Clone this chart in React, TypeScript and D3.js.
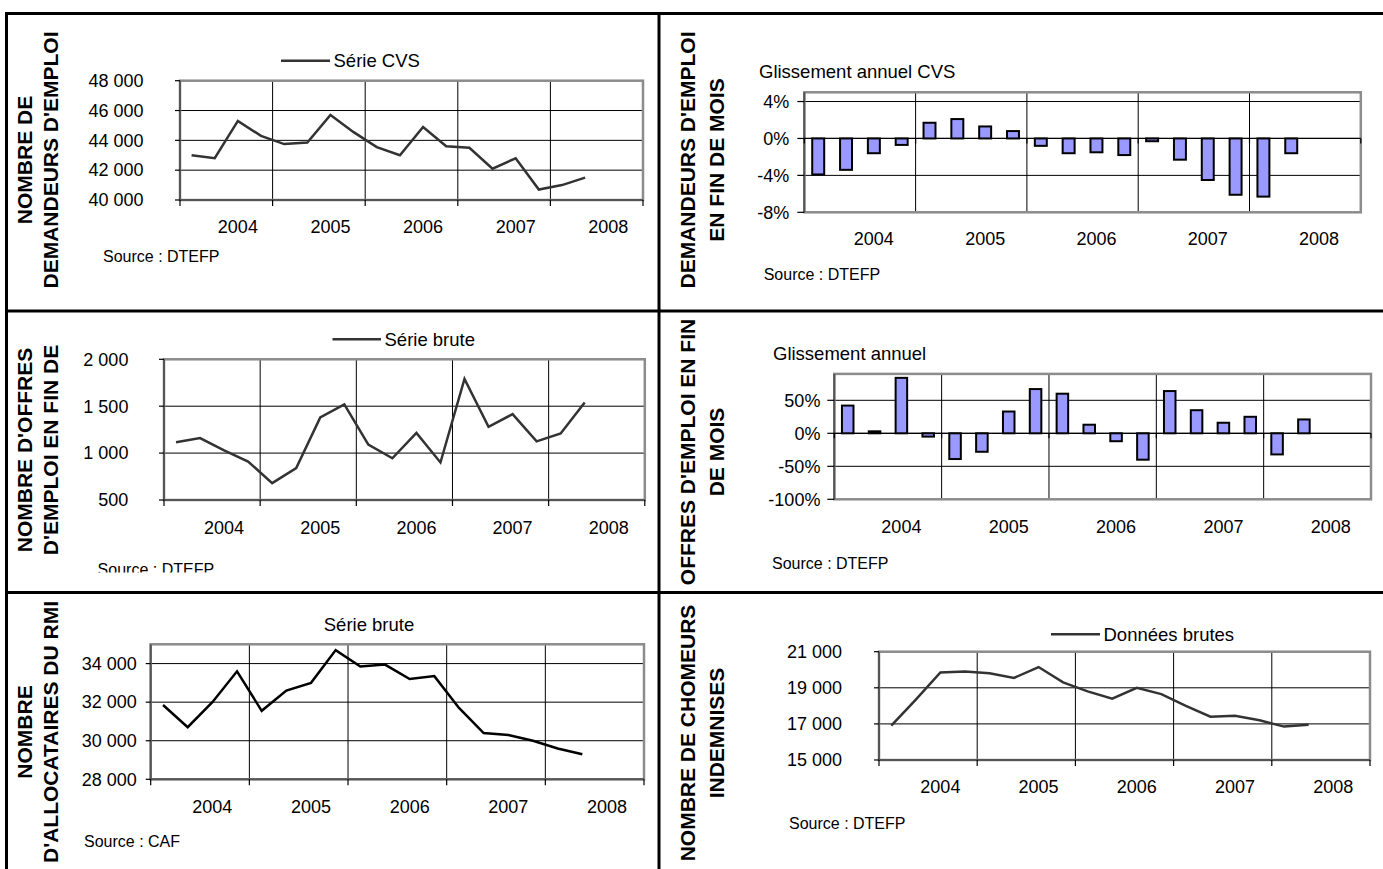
import React from 'react';
import * as d3 from 'd3';

// ---------- DATA ----------
const quarters = [
  '2004T1', '2004T2', '2004T3', '2004T4',
  '2005T1', '2005T2', '2005T3', '2005T4',
  '2006T1', '2006T2', '2006T3', '2006T4',
  '2007T1', '2007T2', '2007T3', '2007T4',
  '2008T1', '2008T2', '2008T3', '2008T4',
];
const yearLabels = ['2004', '2005', '2006', '2007', '2008'];

const demandeursCVS = [43000, 42800, 45300, 44300, 43750, 43850, 45700, 44550, 43550, 43000, 44900, 43600, 43500, 42100, 42800, 40700, 41000, 41500];
const glissementDemandeurs = [-3.9, -3.4, -1.6, -0.7, 1.7, 2.1, 1.3, 0.8, -0.8, -1.6, -1.5, -1.8, -0.3, -2.3, -4.5, -6.1, -6.3, -1.6];
const offresBrutes = [1115, 1160, 1030, 910, 680, 840, 1380, 1520, 1090, 945, 1215, 900, 1790, 1280, 1415, 1125, 1210, 1540];
const glissementOffres = [42, 3, 84, -5, -39, -28, 33, 67, 60, 13, -12, -40, 64, 35, 16, 25, -32, 21];
const allocatairesRMI = [31850, 30700, 32000, 33600, 31550, 32600, 33000, 34700, 33850, 33950, 33200, 33350, 31700, 30400, 30300, 30000, 29600, 29300];
const chomeursIndemnises = [16900, 18350, 19850, 19900, 19800, 19550, 20150, 19300, 18800, 18400, 19000, 18650, 18000, 17400, 17450, 17200, 16850, 16950];

const ticksDemandeurs = [40000, 42000, 44000, 46000, 48000];
const ticksGlissDem = [-8, -4, 0, 4];
const ticksOffres = [500, 1000, 1500, 2000];
const ticksGlissOffres = [-100, -50, 0, 50];
const ticksRMI = [28000, 30000, 32000, 34000];
const ticksChomeurs = [15000, 17000, 19000, 21000];

// ---------- FORMATS ----------
const frLocale = d3.formatLocale({ decimal: ',', thousands: ' ', grouping: [3], currency: ['', ' €'] });
const fmtNum = frLocale.format(',d');
const fmtPct = (v: number) => `${v}%`;

const FONT = 'Liberation Sans, Arial, Helvetica, sans-serif';

type Cfg = {
  id: string;
  kind: 'line' | 'bar';
  values: number[];
  domain: [number, number];
  ticks: number[];
  fmt: (v: number) => string;
  x0: number; x1: number; yB: number; yT: number;
  labelRight: number;
  yearY: number;
  source: { x: number; y: number; text: string; clipY?: number };
  legend?: { x1: number; x2: number; y: number; text: string };
  heading?: { x: number; y: number; text: string; anchor: string };
  titles: { x: number; text: string }[];
  titleCy: number;
  lineColor?: string;
};

const panels: Cfg[] = [
  {
    id: 'p1', kind: 'line', values: demandeursCVS, domain: [40000, 48000], ticks: ticksDemandeurs, fmt: fmtNum,
    x0: 180, x1: 643, yB: 200, yT: 80.7, labelRight: 143.5, yearY: 226.7,
    source: { x: 103, y: 256.7, text: 'Source : DTEFP' },
    legend: { x1: 281, x2: 330, y: 60.7, text: 'Série CVS' },
    titles: [{ x: 24.5, text: 'NOMBRE DE' }, { x: 50.5, text: "DEMANDEURS D'EMPLOI" }], titleCy: 160, lineColor: '#333',
  },
  {
    id: 'p2', kind: 'bar', values: glissementDemandeurs, domain: [-8, 5], ticks: ticksGlissDem, fmt: fmtPct,
    x0: 804.3, x1: 1360.8, yB: 212.3, yT: 92.3, labelRight: 789.3, yearY: 238.3,
    source: { x: 763.7, y: 274.3, text: 'Source : DTEFP' },
    heading: { x: 759, y: 71.7, text: 'Glissement annuel CVS', anchor: 'start' },
    titles: [{ x: 687.5, text: "DEMANDEURS D'EMPLOI" }, { x: 716.5, text: 'EN FIN DE MOIS' }], titleCy: 160,
  },
  {
    id: 'p3', kind: 'line', values: offresBrutes, domain: [500, 2000], ticks: ticksOffres, fmt: fmtNum,
    x0: 164, x1: 644.8, yB: 500, yT: 359.3, labelRight: 128.4, yearY: 528,
    source: { x: 97.6, y: 569, text: 'Source : DTEFP', clipY: 572.5 },
    legend: { x1: 332.5, x2: 381, y: 339.3, text: 'Série brute' },
    titles: [{ x: 24.5, text: "NOMBRE D'OFFRES" }, { x: 50.5, text: "D'EMPLOI EN FIN DE" }], titleCy: 450, lineColor: '#333',
  },
  {
    id: 'p4', kind: 'bar', values: glissementOffres, domain: [-100, 90], ticks: ticksGlissOffres, fmt: fmtPct,
    x0: 834.3, x1: 1371, yB: 499.3, yT: 373.9, labelRight: 820.4, yearY: 526.7,
    source: { x: 772, y: 563.3, text: 'Source : DTEFP' },
    heading: { x: 773, y: 353.3, text: 'Glissement annuel', anchor: 'start' },
    titles: [{ x: 687.5, text: "OFFRES D'EMPLOI EN FIN" }, { x: 716.5, text: 'DE MOIS' }], titleCy: 452,
  },
  {
    id: 'p5', kind: 'line', values: allocatairesRMI, domain: [28000, 35000], ticks: ticksRMI, fmt: fmtNum,
    x0: 150.7, x1: 644, yB: 779.3, yT: 644.3, labelRight: 136.8, yearY: 806.7,
    source: { x: 84, y: 841.7, text: 'Source : CAF' },
    heading: { x: 369, y: 625, text: 'Série brute', anchor: 'middle' },
    titles: [{ x: 24.5, text: 'NOMBRE' }, { x: 50.5, text: "D'ALLOCATAIRES DU RMI" }], titleCy: 732, lineColor: '#000',
  },
  {
    id: 'p6', kind: 'line', values: chomeursIndemnises, domain: [15000, 21000], ticks: ticksChomeurs, fmt: fmtNum,
    x0: 879, x1: 1370, yB: 760, yT: 651.7, labelRight: 842, yearY: 786.7,
    source: { x: 789, y: 823.3, text: 'Source : DTEFP' },
    legend: { x1: 1051, x2: 1100, y: 634.3, text: 'Données brutes' },
    titles: [{ x: 687.5, text: 'NOMBRE DE CHOMEURS' }, { x: 716.5, text: 'INDEMNISES' }], titleCy: 733, lineColor: '#333',
  },
];

function Panel({ c }: { c: Cfg }) {
  const xp = d3.scalePoint<string>().domain(quarters).range([c.x0, c.x1]).padding(0.5);
  const xb = d3.scaleBand<string>().domain(quarters).range([c.x0, c.x1]).paddingInner(0.57).paddingOuter(0.285);
  const y = d3.scaleLinear().domain(c.domain).range([c.yB, c.yT]);
  const step = xp.step();
  const boundaries = d3.range(0, 6).map((k) => c.x0 + k * 4 * step);
  const top = y(c.domain[1]);
  const lineGen = d3.line<number>().x((_, i) => xp(quarters[i]) as number).y((d) => y(d));

  return (
    <g>
      {/* vertical titles */}
      {c.titles.map((t, i) => (
        <text key={i} transform={`translate(${t.x},${c.titleCy}) rotate(-90)`} textAnchor="middle" dy="0.35em"
          fontFamily={FONT} fontWeight="bold" fontSize={21} fill="#000">{t.text}</text>
      ))}
      {/* horizontal gridlines */}
      {c.ticks.filter((t) => t !== c.domain[0]).map((t) => (
        <line key={'g' + t} x1={c.x0} x2={c.x1} y1={y(t)} y2={y(t)} stroke="#000" strokeWidth={1} />
      ))}
      {/* vertical year lines */}
      {boundaries.slice(1, 5).map((bx, i) => (
        <line key={'v' + i} x1={bx} x2={bx} y1={top} y2={c.yB} stroke="#000" strokeWidth={1} />
      ))}
      {/* plot box */}
      <rect x={c.x0} y={top} width={c.x1 - c.x0} height={c.yB - top} fill="none" stroke="#8c8c8c" strokeWidth={2.5} />
      {/* y axis */}
      <line x1={c.x0} x2={c.x0} y1={top} y2={c.yB} stroke="#555" strokeWidth={2} />
      {c.ticks.map((t) => (
        <g key={'t' + t}>
          <line x1={c.x0 - (c.kind === 'bar' ? 7 : 5)} x2={c.x0} y1={y(t)} y2={y(t)} stroke="#000" strokeWidth={1.2} />
          <text x={c.labelRight} y={y(t)} dy="0.35em" textAnchor="end" fontFamily={FONT} fontSize={18} fill="#000">{c.fmt(t)}</text>
        </g>
      ))}
      {/* x axis */}
      {c.kind === 'line' ? (
        <g>
          <line x1={c.x0} x2={c.x1} y1={c.yB} y2={c.yB} stroke="#555" strokeWidth={2} />
          {boundaries.map((bx, i) => (
            <line key={'xt' + i} x1={bx} x2={bx} y1={c.yB} y2={c.yB + 6} stroke="#000" strokeWidth={1.2} />
          ))}
        </g>
      ) : (
        <g>
          <line x1={c.x0} x2={c.x1} y1={y(0)} y2={y(0)} stroke="#000" strokeWidth={1.2} />
          {boundaries.map((bx, i) => (
            <line key={'xt' + i} x1={bx} x2={bx} y1={y(0)} y2={y(0) + 5} stroke="#000" strokeWidth={1.2} />
          ))}
        </g>
      )}
      {/* year labels */}
      {yearLabels.map((yl, k) => (
        <text key={yl} x={xp(quarters[4 * k + 2]) as number} y={c.yearY} dy="0.35em" textAnchor="middle"
          fontFamily={FONT} fontSize={18} fill="#000">{yl}</text>
      ))}
      {/* marks */}
      {c.kind === 'line' ? (
        <path d={lineGen(c.values) || ''} fill="none" stroke={c.lineColor} strokeWidth={2.5} strokeLinejoin="miter" />
      ) : (
        c.values.map((v, i) => (
          <rect key={'b' + i} x={xb(quarters[i]) as number} width={xb.bandwidth()}
            y={Math.min(y(v), y(0))} height={Math.max(Math.abs(y(v) - y(0)), 1.5)}
            fill="#9999ff" stroke="#000" strokeWidth={2} />
        ))
      )}
      {/* legend */}
      {c.legend && (
        <g>
          <line x1={c.legend.x1} x2={c.legend.x2} y1={c.legend.y} y2={c.legend.y} stroke={c.lineColor} strokeWidth={2.5} />
          <text x={c.legend.x2 + 3.5} y={c.legend.y} dy="0.35em" fontFamily={FONT} fontSize={18.5} fill="#000">{c.legend.text}</text>
        </g>
      )}
      {c.heading && (
        <text x={c.heading.x} y={c.heading.y} dy="0.35em" textAnchor={c.heading.anchor as any} fontFamily={FONT} fontSize={18.5} fill="#000">{c.heading.text}</text>
      )}
      {/* source */}
      {c.source.clipY !== undefined && (
        <clipPath id={'clip-' + c.id}>
          <rect x={0} y={0} width={1383} height={c.source.clipY} />
        </clipPath>
      )}
      <text x={c.source.x} y={c.source.y} dy="0.35em" fontFamily={FONT} fontSize={16} fill="#000"
        clipPath={c.source.clipY !== undefined ? `url(#clip-${c.id})` : undefined}>{c.source.text}</text>
    </g>
  );
}

export default function App() {
  const W = 1383;
  const H = 869;
  return (
    <svg width={W} height={H} viewBox={`0 0 ${W} ${H}`}
      style={{ position: 'absolute', left: 0, top: 0, background: '#fff', display: 'block' }}>
      <rect x={0} y={0} width={W} height={H} fill="#fff" />
      {panels.map((c) => <Panel key={c.id} c={c} />)}
      {/* frame */}
      <line x1={5} x2={W} y1={13.5} y2={13.5} stroke="#000" strokeWidth={3} />
      <line x1={6.5} x2={6.5} y1={12} y2={H} stroke="#000" strokeWidth={3} />
      <line x1={659} x2={659} y1={12} y2={H} stroke="#000" strokeWidth={3} />
      <line x1={5} x2={W} y1={311} y2={311} stroke="#000" strokeWidth={3} />
      <line x1={5} x2={W} y1={592.5} y2={592.5} stroke="#000" strokeWidth={3} />
    </svg>
  );
}
